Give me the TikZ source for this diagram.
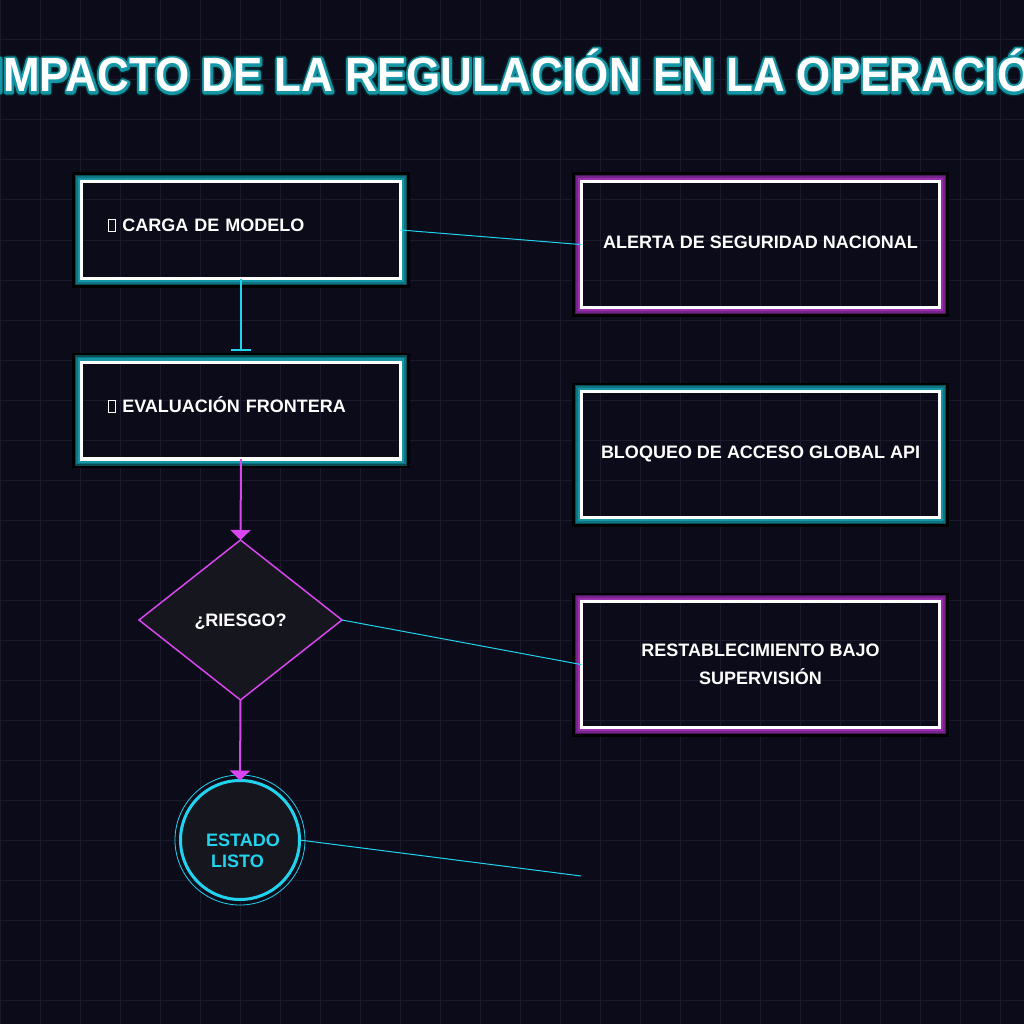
\documentclass[tikz,border=0pt]{standalone}
\usepackage{fontspec}
\setmainfont{Liberation Sans}
\usepackage{graphicx}
\usepackage{tikz}
\usetikzlibrary{positioning, shapes.geometric, arrows.meta, calc}
\definecolor{bgnight}{HTML}{0B0B1A}
\definecolor{gridnight}{HTML}{1A1A2C}
\definecolor{neoncyan}{HTML}{22D3EE}
\definecolor{neonpink}{HTML}{D946EF}
\definecolor{tealA}{HTML}{1597A7}
\definecolor{tealB}{HTML}{0F7381}
\definecolor{tealC}{HTML}{0A4C55}
\definecolor{purpA}{HTML}{9B2FB0}
\definecolor{purpB}{HTML}{74248A}
\definecolor{purpC}{HTML}{4A1858}
\definecolor{shapefill}{HTML}{16161F}
\definecolor{ttlglow}{HTML}{13919F}
\definecolor{ttldark}{HTML}{05262B}
\newcommand{\boxfont}{\fontsize{18}{28}\selectfont\bfseries}
\newcommand{\ttlfont}{\fontsize{48}{50}\selectfont\bfseries}
\newcommand{\ttltext}{\scalebox{0.915}[1]{IMPACTO DE LA REGULACIÓN EN LA OPERACIÓN}}
% outlined text: stroke of width #1 under the letters
\newcommand{\ttlstroke}[1]{\special{pdf:literal direct 1 j #1 w 2 Tr}\ttltext\special{pdf:literal direct 0 Tr}}
\newcommand{\tofubox}{{\fboxsep=0pt\fboxrule=0.9pt\fbox{\rule{0pt}{11.5pt}\hspace{7pt}}}}

\begin{document}
\begin{tikzpicture}[x=1pt, y=-1pt,
    lbox/.style={draw=white, line width=3.3pt, outer sep=0pt,
      minimum width=319pt, minimum height=97pt, inner xsep=26pt,
      text width=267pt, align=left, text height=13pt, text depth=10pt,
      text=white, font=\boxfont},
    rbox/.style={draw=white, line width=3.3pt, outer sep=0pt,
      minimum width=358pt, minimum height=126pt, align=center,
      text=white, font=\boxfont},
    dia/.style={diamond, draw=neonpink, line width=1.5pt, fill=shapefill,
      minimum width=203pt, minimum height=160pt, inner sep=0pt, outer sep=0pt,
      text height=13pt, text depth=0pt, text=white, font=\boxfont},
    endc/.style={circle, draw=neoncyan, line width=3pt, fill=shapefill,
      minimum size=119pt, inner sep=0pt, outer sep=0pt},
    thin/.style={neoncyan, line width=1pt},
    cyarr/.style={-{Bar[width=20pt]}, neoncyan, line width=2pt, shorten >=11pt},
    pkarr/.style={-{Triangle[length=10pt, width=20pt]}, neonpink, line width=2pt},
    ttl/.style={font=\ttlfont, inner sep=0pt, anchor=base}]
\useasboundingbox (0,0) rectangle (1024,1024);
\clip (0,0) rectangle (1024,1024);
\fill[bgnight] (0,0) rectangle (1024,1024);
\foreach \i in {0,40,...,1000}{
  \draw[gridnight, line width=1pt] (\i,0) -- (\i,1024);
  \draw[gridnight, line width=1pt] (0,\i) -- (1024,\i);
}

% --- Title ---
\node[ttl, text=ttldark] (tdark) at (527,92) {\ttlstroke{8}};
\node[ttl, text=ttlglow] (tglow) at (527,92) {\ttlstroke{5.2}};
\node[ttl, text=tealA] (tlite) at (527,92) {\ttlstroke{2.8}};
\node[ttl, text=white] (title) at (527,92) {\ttltext};

% --- Flow (left column) ---
\node[lbox] (carga) at (241,230) {\tofubox\ CARGA DE MODELO};
\node[lbox] (evalua) at (241,410.5) {\tofubox\ EVALUACIÓN FRONTERA};
\node[dia] (riesgo) at (240.5,620) {¿RIESGO?};
\node[endc] (estado) at (240,840) {};
\node[font=\fontsize{18}{21}\selectfont\bfseries, text=neoncyan, align=left, inner sep=0pt]
  (estadotxt) at (243,851) {ESTADO\\\hspace{5pt}LISTO};
\draw[neoncyan, line width=0.8pt] (estado.center) circle[radius=65];

% --- Outcomes (right column) ---
\node[rbox, text height=13pt, text depth=6pt] (alerta) at (760.5,244.6) {ALERTA DE SEGURIDAD NACIONAL};
\node[rbox, text height=13pt, text depth=6pt] (bloqueo) at (760.5,454.6) {BLOQUEO DE ACCESO GLOBAL API};
\node[rbox] (restab) at (760.5,664.6) {RESTABLECIMIENTO BAJO\\SUPERVISIÓN};
\coordinate (libre) at (581,876);

% glow frames
\foreach \n/\ca/\cb/\cc in {carga/tealA/tealB/tealC, evalua/tealA/tealB/tealC,
    alerta/purpA/purpB/purpC, bloqueo/tealA/tealB/tealC, restab/purpA/purpB/purpC}{
  \draw[black, line width=2.6pt] ($(\n.north west)+(-7.8,-7.8)$) rectangle ($(\n.south east)+(7.8,7.8)$);
  \draw[\cc, line width=1.7pt] ($(\n.north west)+(-5.9,-5.9)$) rectangle ($(\n.south east)+(5.9,5.9)$);
  \draw[\cb, line width=1.7pt] ($(\n.north west)+(-4.3,-4.3)$) rectangle ($(\n.south east)+(4.3,4.3)$);
  \draw[\ca, line width=2.2pt] ($(\n.north west)+(-2.6,-2.6)$) rectangle ($(\n.south east)+(2.6,2.6)$);
}

% --- Connectors ---
\draw[cyarr] (carga.south) -- (evalua.north);
\draw[pkarr] (evalua.south) -- (riesgo.north);
\draw[pkarr] (riesgo.south) -- (estado.north);
\draw[thin] (carga.east) -- (alerta.west);
\draw[thin] (riesgo.east) -- (restab.west);
\draw[thin] (estado.east) -- (libre);
\end{tikzpicture}
\end{document}
